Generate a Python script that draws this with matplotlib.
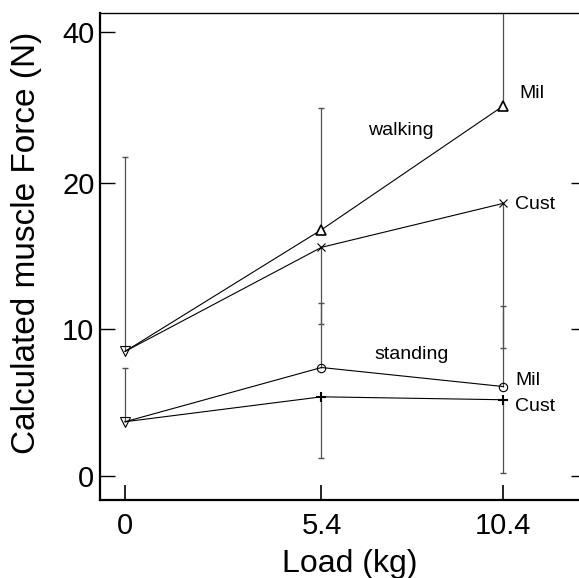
import numpy as np
import matplotlib
matplotlib.use("Agg")
import matplotlib.pyplot as plt

plt.rcParams["font.family"] = ["Liberation Sans", "DejaVu Sans"]

# --- data -------------------------------------------------------------------
load = [0, 5.4, 10.4]
walk_mil = [8.5, 16.8, 30.2]
walk_cust = [8.5, 15.6, 18.6]
stand_mil = [3.7, 7.4, 6.1]
stand_cust = [3.7, 5.4, 5.2]

# one-sided error bars: where each bar ends (nan = no bar)
walk_mil_hi = [23.4, 29.9, 45.0]
walk_cust_lo = [np.nan, 10.4, 8.7]
stand_mil_hi = [7.4, 11.8, 11.6]
stand_cust_lo = [np.nan, 1.2, 0.2]

yticks = [0, 10, 20, 40]
xticks = [0, 5.4, 10.4]
xticklabels = ["0", "5.4", "10.4"]

# y axis is compressed above 20 N
K = 0.515


def fwd(v):
    v = np.asarray(v, float)
    return np.where(v <= 20, v, 20 + (v - 20) * K)


def inv(f):
    f = np.asarray(f, float)
    return np.where(f <= 20, f, 20 + (f - 20) / K)


fig = plt.figure(figsize=(5.79, 5.78), dpi=100)
ax = fig.add_axes([100 / 579, 78 / 578, 479 / 579, 487 / 578])
ax.set_yscale("function", functions=(fwd, inv))
ax.set_xlim(-0.69, 12.48)
ax.set_ylim(-1.64, 42.5)

ecol = "#505050"
for hi, base in [(walk_mil_hi, walk_mil), (stand_mil_hi, stand_mil)]:
    ax.vlines(load, base, hi, color=ecol, lw=0.9)
    ax.plot(load, hi, ls="none", marker="_", ms=5, mew=1.0, color=ecol)
for lo, base in [(walk_cust_lo, walk_cust), (stand_cust_lo, stand_cust)]:
    ax.vlines(load, lo, base, color=ecol, lw=0.9)
    ax.plot(load, lo, ls="none", marker="_", ms=5, mew=1.0, color=ecol)

lw = 0.8
ax.plot(load, walk_mil, color="black", lw=lw)
ax.plot(load, walk_cust, color="black", lw=lw)
ax.plot(load, stand_mil, color="black", lw=lw)
ax.plot(load, stand_cust, color="black", lw=lw)

ax.plot(load[1:], walk_mil[1:], ls="none", marker="^", ms=7, mfc="white", mec="black", mew=1.2)
ax.plot(load[1:], walk_cust[1:], ls="none", marker="x", ms=5.5, color="black", mew=0.8)
ax.plot(load[1:], stand_mil[1:], ls="none", marker="o", ms=6, mfc="none", mec="black", mew=0.8)
ax.plot(load[1:], stand_cust[1:], ls="none", marker="+", ms=7.5, color="black", mew=1.5)
ax.plot([load[0], load[0]], [walk_mil[0], stand_mil[0]], ls="none", marker="v", ms=7.5,
        mfc="none", mec="black", mew=0.8)

ax.text(7.59, 26.9, "walking", fontsize=14, ha="center", va="center")
ax.text(7.89, 8.26, "standing", fontsize=14, ha="center", va="center")
ax.text(10.83, 31.9, "Mil", fontsize=14, ha="left", va="center")
ax.text(10.72, 18.5, "Cust", fontsize=14, ha="left", va="center")
ax.text(10.72, 6.48, "Mil", fontsize=14, ha="left", va="center")
ax.text(10.72, 4.71, "Cust", fontsize=14, ha="left", va="center")

ax.set_yticks(yticks, [str(t) for t in yticks])
ax.set_xticks(xticks, xticklabels)
ax.minorticks_off()
ax.tick_params(axis="y", direction="in", length=11, width=1.0, labelsize=21, pad=4)
ax.tick_params(axis="x", direction="in", length=11, width=1.2, labelsize=21, pad=9)

for s in ("left", "bottom"):
    ax.spines[s].set_linewidth(1.6)
ax.spines["top"].set_linewidth(1.0)
ax.spines["right"].set_visible(False)

# short ticks on the right edge (0, 10, 20 only)
ax2 = ax.twinx()
ax2.set_yscale("function", functions=(fwd, inv))
ax2.set_ylim(ax.get_ylim())
ax2.set_yticks([0, 10, 20], ["", "", ""])
ax2.minorticks_off()
ax2.tick_params(axis="y", direction="in", length=6, width=1.0)
for s in ax2.spines.values():
    s.set_visible(False)

fig.text(27 / 579, 1 - 243 / 578, "Calculated muscle Force (N)", fontsize=24,
         rotation=90, ha="center", va="center")
fig.text(350 / 579, 1 - 572 / 578, "Load (kg)", fontsize=23, ha="center", va="baseline")

fig.savefig("out.png", dpi=100)
